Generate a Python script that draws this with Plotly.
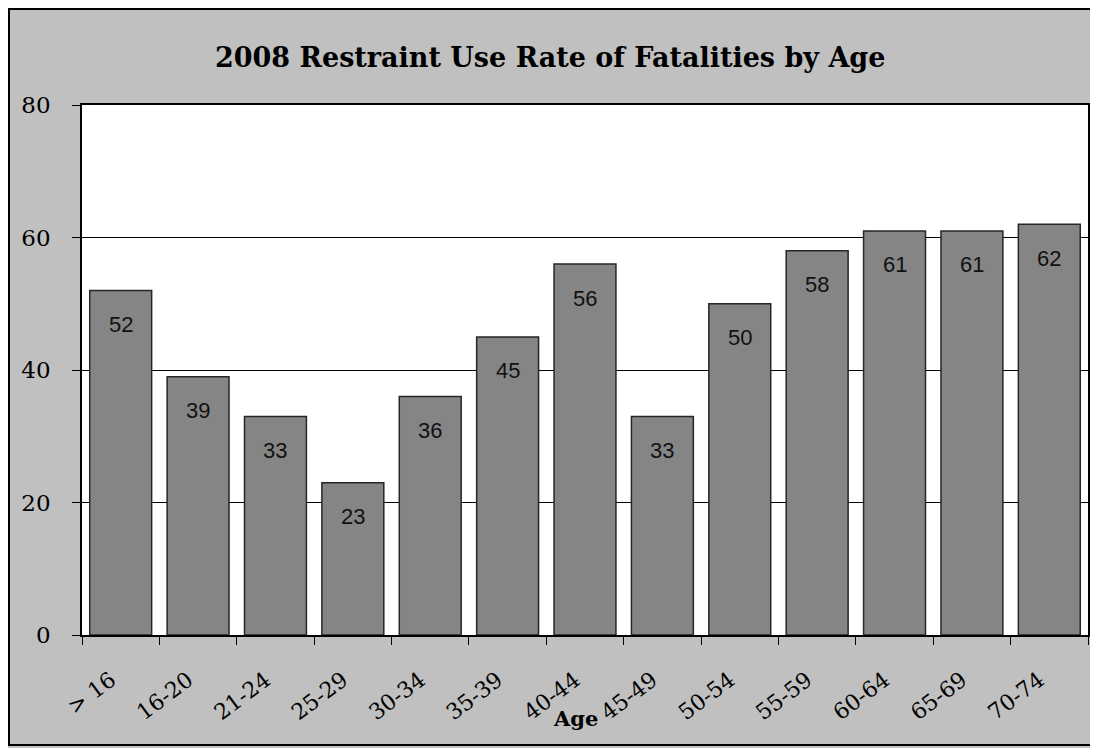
import plotly.graph_objects as go

age_groups = ['> 16', '16-20', '21-24', '25-29', '30-34', '35-39', '40-44',
              '45-49', '50-54', '55-59', '60-64', '65-69', '70-74']
use_rate = [52, 39, 33, 23, 36, 45, 56, 33, 50, 58, 61, 61, 62]
y_ticks = [0, 20, 40, 60, 80]

serif = "Palatino Linotype, Book Antiqua, DejaVu Serif, serif"

# page has an 8px body margin, so the figure is drawn 8px smaller / shifted
W, H = 1090, 740
L, T = 74, 97
pw, ph = 1080 - L, 627 - T
R, B = W - L - pw, H - T - ph


def px(x):
    return (x - L) / pw


def py(y):
    return (T + ph - y) / ph


fig = go.Figure()

fig.add_trace(go.Bar(
    x=age_groups,
    y=use_rate,
    marker=dict(color='#858585', line=dict(color='#262626', width=1.5)),
    showlegend=False,
    hoverinfo='x+y'
))

# value labels sit inside the bar just below the top
for cat, val in zip(age_groups, use_rate):
    fig.add_annotation(
        x=cat, y=val, text=str(val), showarrow=False,
        yshift=-34, font=dict(family="Liberation Sans, Arial", size=22, color='#111111')
    )

fig.add_annotation(
    x=px(542), y=py(50), xref='paper', yref='paper',
    text="<b>2008 Restraint Use Rate of Fatalities by Age</b>",
    showarrow=False, xanchor='center', yanchor='middle',
    font=dict(family=serif, size=27, color='#000000')
)
fig.add_annotation(
    x=px(567), y=py(710), xref='paper', yref='paper',
    text="<b>Age</b>", showarrow=False, xanchor='center', yanchor='middle',
    font=dict(family=serif, size=21, color='#000000')
)

# outer frame of the chart area
fig.add_shape(
    type='rect', xref='paper', yref='paper',
    x0=px(1), x1=px(1087), y0=py(737), y1=py(1),
    line=dict(color='#000000', width=2), layer='below'
)

fig.update_layout(
    width=W, height=H,
    margin=dict(l=L, r=R, t=T, b=B, autoexpand=False),
    paper_bgcolor='#c0c0c0',
    plot_bgcolor='#ffffff',
    bargap=0.2,
    xaxis=dict(
        automargin=False,
        tickangle=-37,
        tickfont=dict(family=serif, size=22, color='#000000'),
        showline=True, linecolor='#000000', linewidth=1.5, mirror=True,
        ticks='outside', ticklen=8, tickcolor='#000000', tickson='boundaries',
        ticklabelstandoff=22, ticklabelshift=-10,
        showgrid=False
    ),
    yaxis=dict(
        automargin=False,
        range=[0, 80],
        tickvals=y_ticks,
        tickfont=dict(family=serif, size=23, color='#000000'),
        showline=True, linecolor='#000000', linewidth=1.5, mirror=True,
        ticks='outside', ticklen=8, tickcolor='#000000',
        ticklabelstandoff=17,
        showgrid=True, gridcolor='#000000', gridwidth=1,
        zeroline=False
    )
)

fig.write_html("out.html")
